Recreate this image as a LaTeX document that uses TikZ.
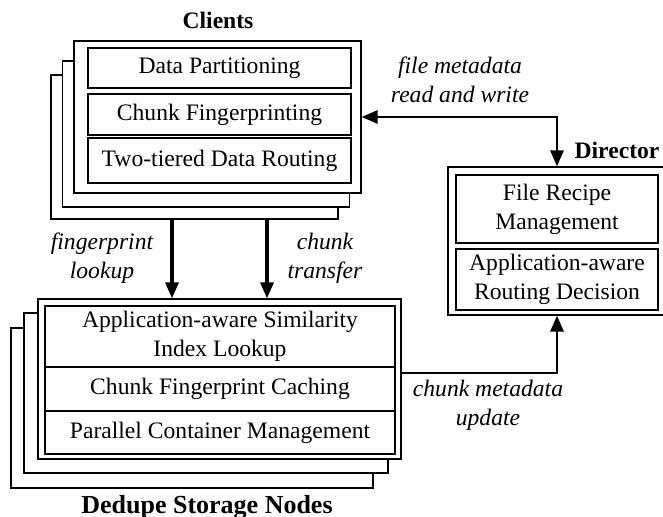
\documentclass[tikz,border=0pt]{standalone}
\usepackage{fontspec}
\setmainfont{Liberation Serif}
\usetikzlibrary{arrows.meta}
\tikzset{
  box/.style={draw, line width=0.6pt, fill=white, inner sep=0pt, align=center},
  frame/.style={box, minimum width=#1},
  cell/.style={box, minimum width=#1},
  tag/.style={font=\fontsize{11.8}{14.5}\selectfont\itshape, align=center},
  head/.style={font=\fontsize{11.8}{14}\selectfont\bfseries},
  flow/.style={line width=1.6pt, -{Triangle[length=8pt,width=6.5pt]}},
  twoway/.style={line width=1.4pt, {Triangle[length=8pt,width=6.5pt]}-{Triangle[length=8pt,width=6.5pt]}}
}

\begin{document}
\begin{tikzpicture}[x=0.5pt, y=-0.5pt, font=\fontsize{11.8}{14.5}\selectfont]
\useasboundingbox (0,0) rectangle (663,517);

  % clients
  \node[frame=143.5pt, minimum height=72pt] (cback3) at (194.5,147) {};
  \node[frame=143.5pt, minimum height=73pt] (cback2) at (206,134) {};
  \node[frame=143.5pt, minimum height=76pt] (cfront) at (217.5,117) {};
  \node[cell=131.5pt, minimum height=20pt] (part) at (219.5,68) {Data Partitioning};
  \node[cell=131.5pt, minimum height=20.5pt] (fing) at (219.5,114.5) {Chunk Fingerprinting};
  \node[cell=131.5pt, minimum height=22.5pt] (rout) at (219.5,160.5) {Two-tiered Data Routing};
  \node[head] (clients) at (218,20) {Clients};

  % dedupe storage nodes
  \node[frame=181pt, minimum height=80pt] (dback3) at (192,408) {};
  \node[frame=182pt, minimum height=80pt] (dback2) at (206,393) {};
  \node[frame=181.5pt, minimum height=80pt] (dfront) at (219.5,379) {};
  \node[cell=175pt, minimum height=30.5pt] (simi) at (220,336.5) {Application-aware Similarity\\Index Lookup};
  \node[cell=175pt, minimum height=22pt] (cach) at (220,389) {Chunk Fingerprint Caching};
  \node[cell=175pt, minimum height=21.5pt] (cont) at (220,432.5) {Parallel Container Management};
  \node[head, font=\fontsize{13}{15}\selectfont\bfseries] (nodes) at (207,507) {Dedupe Storage Nodes};

  % director (runs off the right edge)
  \node[frame=118pt, minimum height=74pt] (dir) at (566,241) {};
  \node[cell=101pt, minimum height=34pt] (reci) at (557,209) {File Recipe\\Management};
  \node[cell=101pt, minimum height=30.5pt] (deci) at (557,279.5) {Application-aware\\Routing Decision};
  \node[head] (director) at (617,150) {Director};

  % connectors
  \coordinate (lk) at (172,0);
  \coordinate (tr) at (267,0);
  \coordinate (fm) at (0,117);
  \coordinate (cm) at (0,373);
  \draw[flow] (cback3.south -| lk) -- (dfront.north -| lk);
  \draw[flow] (cback3.south -| tr) -- (dfront.north -| tr);
  \draw[twoway] (cfront.east |- fm) -| (dir.north -| reci);
  \draw[flow, line width=1.4pt] (dfront.east |- cm) -| (dir.south -| deci);

  \node[tag] (lkup) at (102,258) {fingerprint\\lookup};
  \node[tag] (trans) at (325,258) {chunk\\transfer};
  \node[tag] (rw) at (460,80) {file metadata\\read and write};
  \node[tag] (upd) at (488,405) {chunk metadata\\update};

\end{tikzpicture}
\end{document}
